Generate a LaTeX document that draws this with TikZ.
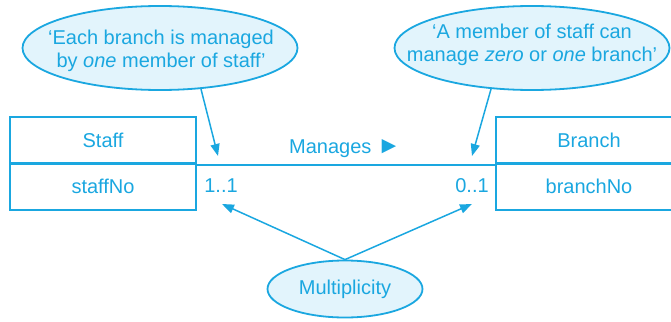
\documentclass[tikz,border=0pt]{standalone}
\usepackage{fontspec}
\setmainfont{Liberation Sans}
\usetikzlibrary{shapes.geometric,arrows.meta}
\definecolor{umlblue}{HTML}{1AA7E0}
\definecolor{notefill}{HTML}{E2F4FC}
\begin{document}
\begin{tikzpicture}[
    x=1pt, y=-1pt,
    every node/.style={text=umlblue, font=\fontsize{20}{22.5}\selectfont},
    note/.style={ellipse, draw=umlblue, fill=notefill, line width=1.8pt, minimum width=275pt, minimum height=84pt, inner sep=0pt},
    notetext/.style={align=center, inner sep=0pt},
    classbox/.style={rectangle, draw=umlblue, line width=2.2pt, minimum width=186pt, minimum height=46.5pt},
    assoc/.style={draw=umlblue, line width=1.8pt},
    arrow/.style={-{Triangle[length=12pt,width=9pt]}, draw=umlblue, line width=1.5pt}
]
\useasboundingbox (0,0) rectangle (671,321);
% classes
\node[classbox] (staff) at (103,140.25) {Staff};
\node[classbox] (staffno) at (103,186.75) {staffNo};
\node[classbox] (branch) at (589,140.25) {Branch};
\node[classbox] (branchno) at (589,186.75) {branchNo};

\draw[assoc] (staff.south east) -- (branch.south west);
\node (manages) at (345,149) {Manages {\fontsize{24}{24}\selectfont ►}};
\node (mstaff) at (221,186) {1..1};
\node (mbranch) at (472,186) {0..1};

% notes
\node[note] (noteone) at (160,48) {};
\node[notetext] (noteonetext) at (161,51) {‘Each branch is managed\\by \textit{one} member of staff’};
\node[note] (notetwo) at (532,48) {};
\node[notetext] (notetwotext) at (532,45) {‘A member of staff can\\manage \textit{zero} or \textit{one} branch’};
\node[note, minimum width=155pt, minimum height=57pt] (mult) at (345,289) {};
\node[notetext] (multtext) at (mult) {Multiplicity};

\coordinate (tone) at (218,156);
\coordinate (ttwo) at (472,156);
\coordinate (mone) at (222,204);
\coordinate (mtwo) at (472,204);

\draw[arrow] (noteone.-45) -- (tone);
\draw[arrow] (notetwo.-135) -- (ttwo);
\draw[arrow] (mult.north) -- (mone);
\draw[arrow] (mult.north) -- (mtwo);
\end{tikzpicture}
\end{document}
